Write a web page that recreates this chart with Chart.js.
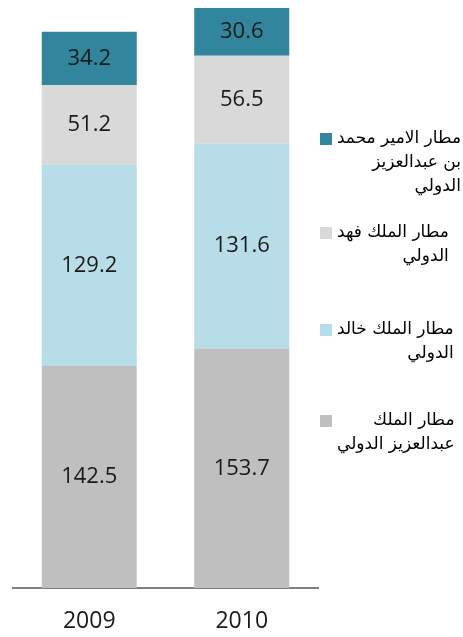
<!DOCTYPE html>
<html>
<head>
<meta charset="utf-8">
<script src="https://cdn.jsdelivr.net/npm/chart.js@4.4.1/dist/chart.umd.min.js"></script>
<style>
  html, body { margin: 0; padding: 0; background: #fff; }
  #wrap { width: 463px; height: 637px; position: relative; }
</style>
</head>
<body>
<div id="wrap"><canvas id="airportChart"></canvas></div>
<script>
// passengers by airport, 2009-2010
const years = ['2009', '2010'];
const kingAbdulaziz = [142.5, 153.7];
const kingKhalid = [129.2, 131.6];
const kingFahd = [51.2, 56.5];
const princeMohammed = [34.2, 30.6];

// legend text as it wraps in the original (top to bottom)
const legendLines = [
    ['مطار الامير محمد', 'بن عبدالعزيز', 'الدولي'],
    ['مطار الملك فهد', 'الدولي'],
    ['مطار الملك خالد', 'الدولي'],
    ['مطار الملك', 'عبدالعزيز الدولي']
];

const colors = {
    abdulaziz: '#BFBFBF',
    khalid: '#B7DEE8',
    fahd: '#D9D9D9',
    mohammed: '#31859C'
};

const valueLabels = {
    id: 'valueLabels',
    afterDatasetsDraw(chart) {
        const ctx = chart.ctx;
        ctx.save();
        ctx.font = '22px "Open Sans", sans-serif';
        ctx.fillStyle = '#1a1a1a';
        ctx.textAlign = 'center';
        ctx.textBaseline = 'middle';
        chart.data.datasets.forEach((ds, i) => {
            chart.getDatasetMeta(i).data.forEach((bar, j) => {
                ctx.fillText(ds.data[j].toFixed(1), bar.x, (bar.y + bar.base) / 2);
            });
        });
        ctx.restore();
    }
};

const sideLegend = {
    id: 'sideLegend',
    afterDraw(chart) {
        const ctx = chart.ctx;
        const order = chart.data.datasets.slice().reverse();
        const rowY = [139, 233, 330, 421];
        ctx.save();
        ctx.font = '17px "DejaVu Sans", sans-serif';
        ctx.textBaseline = 'middle';
        ctx.textAlign = 'right';
        ctx.direction = 'rtl';
        order.forEach((ds, k) => {
            const y0 = rowY[k];
            ctx.fillStyle = ds.backgroundColor;
            ctx.fillRect(320, y0 - 6, 12, 12);
            const lines = legendLines[k];
            const w = Math.max(...lines.map(t => ctx.measureText(t).width));
            const right = Math.min(337 + w, 461);
            ctx.fillStyle = '#000';
            lines.forEach((t, n) => ctx.fillText(t, right, y0 + n * 24));
        });
        ctx.restore();
    }
};

new Chart(document.getElementById('airportChart'), {
    type: 'bar',
    data: {
        labels: years,
        datasets: [
            { label: 'King Abdulaziz', data: kingAbdulaziz, backgroundColor: colors.abdulaziz },
            { label: 'King Khalid', data: kingKhalid, backgroundColor: colors.khalid },
            { label: 'King Fahd', data: kingFahd, backgroundColor: colors.fahd },
            { label: 'Prince Mohammed', data: princeMohammed, backgroundColor: colors.mohammed }
        ]
    },
    options: {
        responsive: true,
        maintainAspectRatio: false,
        animation: false,
        layout: { padding: { left: 13, right: 145, top: 8, bottom: 0 } },
        datasets: { bar: { barPercentage: 0.623, categoryPercentage: 1 } },
        plugins: { legend: { display: false }, tooltip: { enabled: false } },
        scales: {
            x: {
                stacked: true,
                grid: { display: false, drawTicks: false },
                border: { color: '#808080', width: 2 },
                ticks: { color: '#1a1a1a', padding: 20, font: { family: '"Open Sans", sans-serif', size: 23 } },
                afterFit: scale => { scale.height = 49; }
            },
            y: {
                stacked: true,
                display: false,
                min: 0,
                max: 372.4
            }
        }
    },
    plugins: [valueLabels, sideLegend]
});
</script>
</body>
</html>
